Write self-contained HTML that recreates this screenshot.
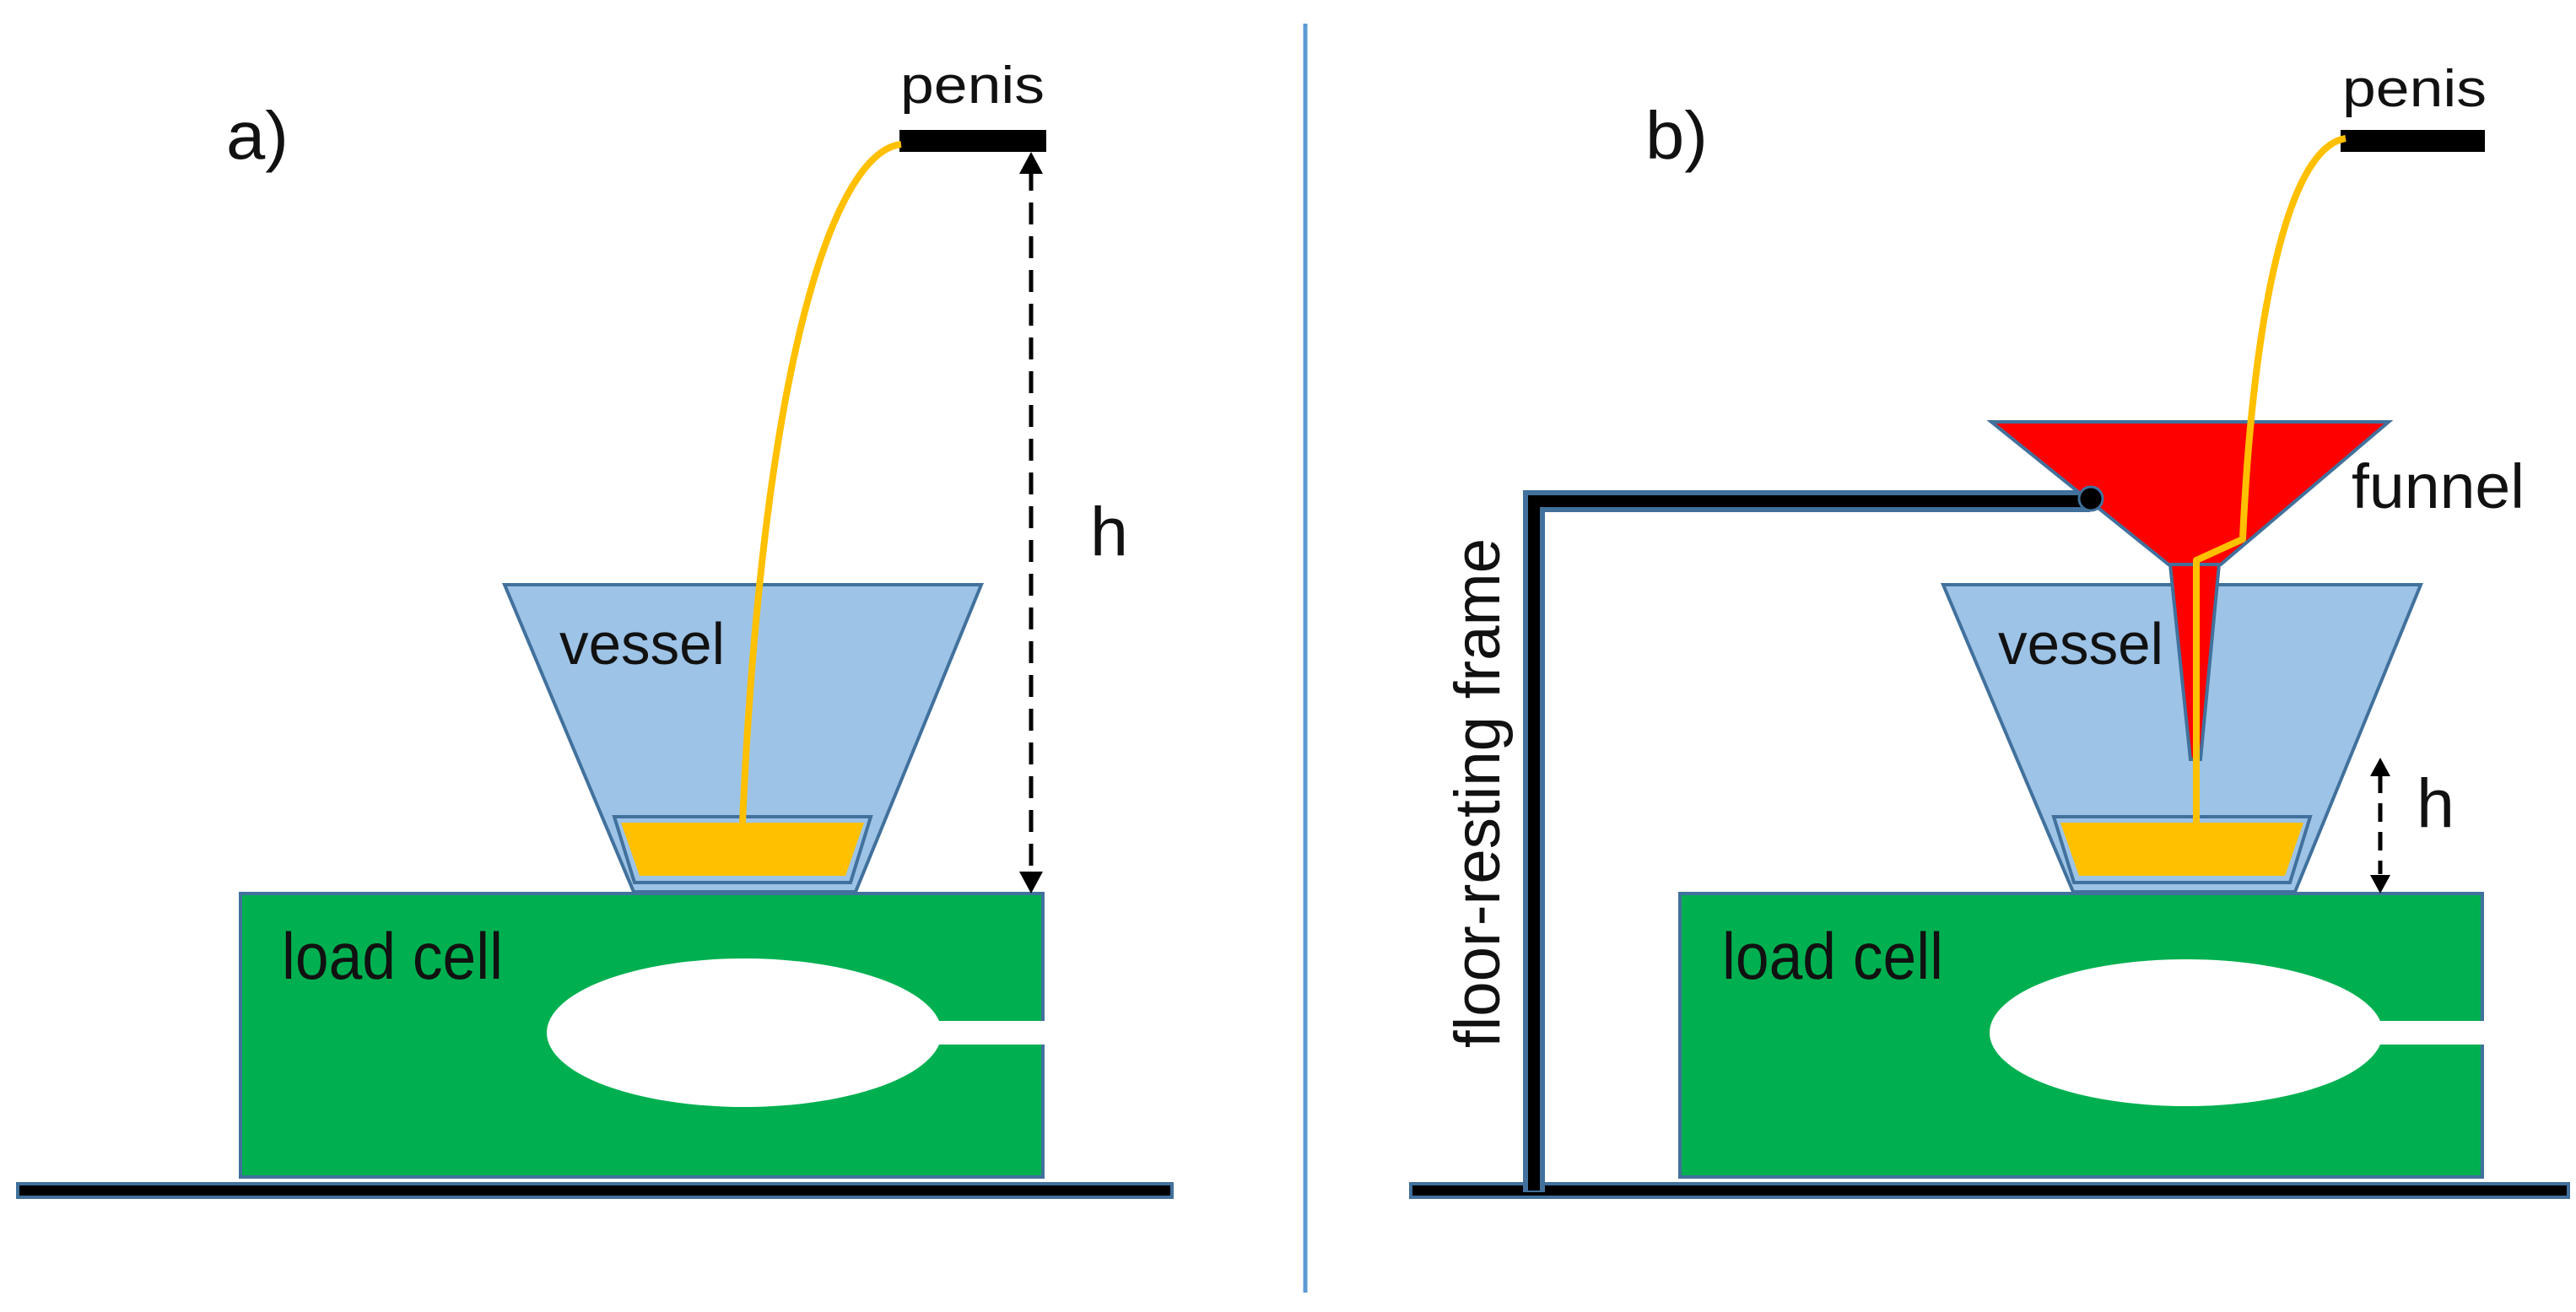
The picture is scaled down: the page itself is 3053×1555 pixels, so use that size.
<!DOCTYPE html>
<html><head><meta charset="utf-8"><style>
html,body{margin:0;padding:0;background:#fff;}
svg{display:block;}
text{font-family:"Liberation Sans",sans-serif;fill:#111;}
</style></head><body>
<svg width="3053" height="1555" viewBox="0 0 3053 1555" xmlns="http://www.w3.org/2000/svg">
<defs>
<marker id="ah" viewBox="0 0 10 10" refX="10" refY="5" markerWidth="10" markerHeight="10" markerUnits="userSpaceOnUse" orient="auto-start-reverse">
</marker>
</defs>

<!-- divider -->
<line x1="1547" y1="28" x2="1547" y2="1532" stroke="#5b9bd5" stroke-width="5"/>

<!-- ================= LEFT PANEL ================= -->
<text x="268" y="188" font-size="80" textLength="74" lengthAdjust="spacingAndGlyphs">a)</text>
<text x="1067" y="122" font-size="62" textLength="171" lengthAdjust="spacingAndGlyphs">penis</text>
<rect x="1066" y="154" width="174" height="26" fill="#000"/>

<!-- load cell -->
<rect x="285" y="1059" width="951" height="336" fill="#00b050" stroke="#41719c" stroke-width="4"/>
<ellipse cx="882" cy="1224" rx="234" ry="88" fill="#fff"/>
<rect x="1100" y="1210" width="140" height="28" fill="#fff"/>
<text x="334" y="1160" font-size="78" textLength="262" lengthAdjust="spacingAndGlyphs">load cell</text>

<!-- floor -->
<rect x="21" y="1403" width="1368" height="16" fill="#000" stroke="#41719c" stroke-width="4"/>

<!-- vessel -->
<polygon points="598,693 1163,693 1014,1057 751,1057" fill="#9dc3e6" stroke="#41719c" stroke-width="4"/>
<polygon points="728,968 1032,968 1008,1046 752,1046" fill="none" stroke="#41719c" stroke-width="4"/>
<polygon points="736,975 1024,975 1002,1038 758,1038" fill="#ffc000"/>
<text x="663" y="787" font-size="70" textLength="196" lengthAdjust="spacingAndGlyphs">vessel</text>

<!-- stream -->
<path d="M1068,171 C990,180 905,420 880,975" fill="none" stroke="#ffc000" stroke-width="8"/>

<!-- dashed h arrow -->
<line x1="1222" y1="200" x2="1222" y2="1036" stroke="#000" stroke-width="5" stroke-dasharray="26,14"/>
<polygon points="1222,180 1208,206 1236,206" fill="#000"/>
<polygon points="1222,1059 1208,1033 1236,1033" fill="#000"/>
<text x="1292" y="658" font-size="82" textLength="45" lengthAdjust="spacingAndGlyphs">h</text>

<!-- ================= RIGHT PANEL ================= -->
<text x="1950" y="188" font-size="80" textLength="74" lengthAdjust="spacingAndGlyphs">b)</text>
<text x="2776" y="126" font-size="62" textLength="171" lengthAdjust="spacingAndGlyphs">penis</text>
<rect x="2774" y="154" width="171" height="26" fill="#000"/>

<!-- load cell -->
<rect x="1991" y="1059" width="951" height="336" fill="#00b050" stroke="#41719c" stroke-width="4"/>
<ellipse cx="2591" cy="1224" rx="233" ry="87" fill="#fff"/>
<rect x="2805" y="1210" width="140" height="28" fill="#fff"/>
<text x="2041" y="1160" font-size="78" textLength="262" lengthAdjust="spacingAndGlyphs">load cell</text>

<!-- floor -->
<rect x="1672" y="1403" width="1372" height="16" fill="#000" stroke="#41719c" stroke-width="4"/>

<!-- frame -->
<path d="M1818,1413 L1818,594 L2477,594" fill="none" stroke="#41719c" stroke-width="26"/>
<path d="M1818,1411 L1818,594 L2477,594" fill="none" stroke="#000" stroke-width="14"/>
<text transform="translate(1777,1242) rotate(-90)" x="0" y="0" font-size="76" textLength="604" lengthAdjust="spacingAndGlyphs">floor-resting frame</text>

<!-- vessel -->
<polygon points="2303,693 2869,693 2720,1057 2457,1057" fill="#9dc3e6" stroke="#41719c" stroke-width="4"/>
<polygon points="2434,968 2738,968 2714,1046 2458,1046" fill="none" stroke="#41719c" stroke-width="4"/>
<polygon points="2442,975 2730,975 2708,1038 2464,1038" fill="#ffc000"/>
<text x="2368" y="787" font-size="70" textLength="196" lengthAdjust="spacingAndGlyphs">vessel</text>

<!-- funnel -->
<polygon points="2360,500 2831,500 2632,669 2570,669" fill="#ff0000" stroke="#41719c" stroke-width="4"/>
<polygon points="2572,669 2630,669 2608,900 2596,900" fill="#ff0000" stroke="#41719c" stroke-width="4"/>
<circle cx="2478" cy="591" r="14" fill="#000" stroke="#41719c" stroke-width="3"/>
<text x="2787" y="602" font-size="74" textLength="205" lengthAdjust="spacingAndGlyphs">funnel</text>

<!-- stream -->
<path d="M2780,164 C2710,175 2670,380 2658,639 L2603,664 L2603,978" fill="none" stroke="#ffc000" stroke-width="8" stroke-linejoin="round"/>

<!-- small h arrow -->
<line x1="2821" y1="918" x2="2821" y2="1036" stroke="#000" stroke-width="5" stroke-dasharray="22,12"/>
<polygon points="2821,898 2809,920 2833,920" fill="#000"/>
<polygon points="2821,1059 2809,1037 2833,1037" fill="#000"/>
<text x="2864" y="980" font-size="82" textLength="45" lengthAdjust="spacingAndGlyphs">h</text>
</svg>
</body></html>
